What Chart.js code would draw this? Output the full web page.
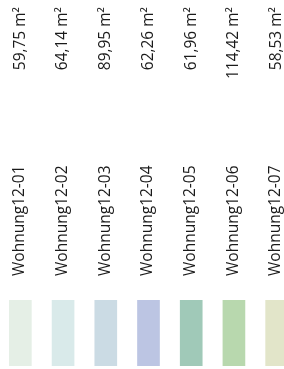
<!DOCTYPE html>
<html>
<head>
<meta charset="utf-8">
<script src="https://cdn.jsdelivr.net/npm/chart.js@4"></script>
<style>
  html, body { margin: 0; padding: 0; background: #fff; overflow: hidden; }
  #wrap { position: absolute; left: -1px; top: 0; width: 299px; height: 369px; }
</style>
</head>
<body>
<div id="wrap"><canvas id="chart" width="299" height="369"></canvas></div>
<script>
var units = [
    "Wohnung12-01",
    "Wohnung12-02",
    "Wohnung12-03",
    "Wohnung12-04",
    "Wohnung12-05",
    "Wohnung12-06",
    "Wohnung12-07"
];
var areas = [59.75, 64.14, 89.95, 62.26, 61.96, 114.42, 58.53];
var barValues = [1, 1, 1, 1, 1, 1, 1];

var barColors = [
    "#e5efe6",
    "#d9eaea",
    "#cbdbe4",
    "#bcc5e3",
    "#a0c9b8",
    "#b8d8ae",
    "#e2e5c9"
];

var labelFont = { family: "'Open Sans', sans-serif", size: 15.5 };
var textColor = "#1a1a1a";

function areaLabel(v) {
    return v.toFixed(2).replace(".", ",") + " m\u00b2";
}

// rotated labels make chart.js reserve side padding and cap the axis height,
// so fix the box ourselves: bars start at y=300
function fitTopAxis(scale) {
    scale.paddingLeft = 0;
    scale.paddingRight = 0;
    scale.height = 296;
}

// area labels hang from the top edge, one per column
var areaLabelsPlugin = {
    id: "areaLabels",
    afterDraw: (chart) => {
        var ctx = chart.ctx;
        var xScale = chart.scales.x;
        ctx.save();
        ctx.font = labelFont.size + "px " + labelFont.family;
        ctx.fillStyle = textColor;
        ctx.textAlign = "right";
        ctx.textBaseline = "middle";
        areas.forEach((a, i) => {
            ctx.save();
            ctx.translate(xScale.getPixelForValue(i), 7);
            ctx.rotate(-Math.PI / 2);
            ctx.fillText(areaLabel(a), 0, 0);
            ctx.restore();
        });
        ctx.restore();
    }
};

function buildChart() {
    new Chart("chart", {
        type: "bar",
        data: {
            labels: units,
            datasets: [{
                data: barValues,
                backgroundColor: barColors,
                barThickness: 22
            }]
        },
        options: {
            responsive: false,
            animation: false,
            layout: { autoPadding: false, padding: { top: 4, bottom: 3, left: 0, right: 0 } },
            plugins: {
                legend: { display: false },
                tooltip: { enabled: false }
            },
            scales: {
                x: {
                    position: "top",
                    offset: true,
                    grid: { display: false, drawTicks: false },
                    border: { display: false },
                    ticks: { color: textColor, font: labelFont, minRotation: 90, maxRotation: 90, padding: 24, labelOffset: 18, autoSkip: false },
                    afterFit: fitTopAxis
                },
                y: {
                    display: false,
                    min: 0,
                    max: 1
                }
            }
        },
        plugins: [areaLabelsPlugin]
    });
}

buildChart();
</script>
</body>
</html>
